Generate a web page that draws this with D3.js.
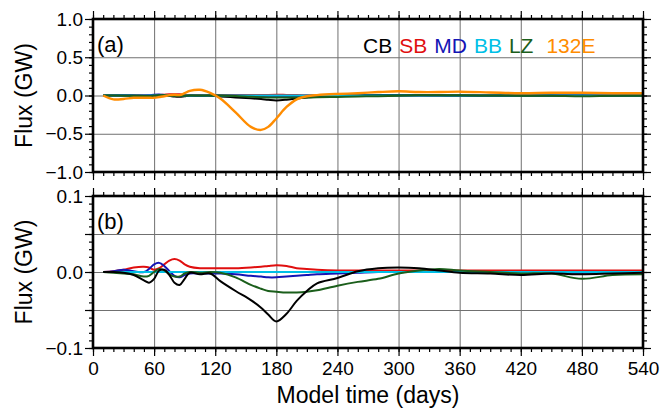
<!DOCTYPE html>
<html>
<head>
<meta charset="utf-8">
<script src="https://cdn.jsdelivr.net/npm/d3@7"></script>
<style>
  body { margin: 0; background: #fff; }
  svg { display: block; font-family: "Liberation Sans", Arial, sans-serif; }
  .grid line { stroke: #707070; stroke-width: 1; }
  .grid path, .ticks path { display: none; }
  .ticks line { stroke: #000; stroke-width: 1.2; }
  .ticks text { font-size: 19px; fill: #000; }
</style>
</head>
<body>
<svg width="660" height="414"></svg>
<script>
var days = [10, 20, 30, 40, 50, 55, 60, 65, 70, 75, 80, 85, 90, 95, 105, 115, 125, 140, 155, 165, 172, 180, 190, 200, 210, 220, 240, 260, 280, 300, 320, 340, 360, 390, 420, 450, 480, 510, 540];

var CB   = [0, 0, -0.001, -0.004, -0.011, -0.014, -0.009, 0.002, 0.003, -0.004, -0.014, -0.017, -0.009, -0.001, -0.003, -0.002, -0.012, -0.025, -0.037, -0.047, -0.056, -0.065, -0.055, -0.038, -0.025, -0.015, -0.008, 0.001, 0.005, 0.006, 0.005, 0.002, -0.001, -0.002, -0.004, -0.002, -0.003, -0.002, -0.001];
var SB   = [0, 0.001, 0.003, 0.006, 0.007, 0.006, 0.003, 0.005, 0.010, 0.015, 0.017, 0.015, 0.010, 0.007, 0.005, 0.005, 0.005, 0.005, 0.006, 0.007, 0.008, 0.009, 0.008, 0.005, 0.004, 0.003, 0.002, 0.002, 0.002, 0.002, 0.002, 0.002, 0.002, 0.002, 0.002, 0.002, 0.002, 0.002, 0.002];
var MD   = [0, 0.001, 0.003, 0.001, 0, 0.004, 0.010, 0.012, 0.008, 0.001, -0.005, -0.007, -0.004, -0.002, -0.002, -0.002, -0.002, -0.003, -0.005, -0.006, -0.007, -0.007, -0.006, -0.005, -0.004, -0.003, -0.002, -0.001, 0, 0, 0, 0, 0, -0.001, -0.001, -0.001, -0.001, 0, 0];
var BB   = [0, 0, 0, 0, 0, 0, 0, 0, 0, 0, 0, 0, 0, 0, 0, 0, 0, 0, 0, 0, 0, 0, 0, 0, 0, 0, 0, 0, 0, 0, 0, 0, 0, 0, 0, 0, 0, 0, 0];
var LZ   = [0, -0.001, -0.002, -0.003, -0.006, -0.005, 0, 0.004, 0.002, -0.003, -0.006, -0.006, -0.002, 0, -0.001, 0, -0.001, -0.007, -0.017, -0.022, -0.025, -0.026, -0.027, -0.027, -0.026, -0.024, -0.018, -0.013, -0.009, -0.002, 0.002, 0.004, 0.002, 0, -0.002, -0.002, -0.009, -0.004, -0.003];
var E132 = [0, -0.05, -0.045, -0.03, -0.03, -0.03, -0.03, -0.02, -0.01, 0.005, 0.01, 0.005, 0.03, 0.06, 0.075, 0.035, -0.04, -0.22, -0.41, -0.45, -0.41, -0.30, -0.15, -0.05, -0.01, 0.005, 0.02, 0.03, 0.045, 0.055, 0.045, 0.045, 0.05, 0.04, 0.03, 0.035, 0.035, 0.03, 0.03];

var names  = ["CB", "SB", "MD", "BB", "LZ", "132E"];
var values = [CB, SB, MD, BB, LZ, E132];
var colors = ["#000000", "#e00f0f", "#1414b4", "#00bfe6", "#1b5e1b", "#ff8c00"];

var xTicks = [0, 60, 120, 180, 240, 300, 360, 420, 480, 540];

var svg = d3.select("svg");
var left = 93, right = 643;

var x = d3.scaleLinear().domain([0, 540]).range([left, right]);

var line = d3.line()
  .x(function(d) { return x(d[0]); })
  .curve(d3.curveCatmullRom.alpha(0.5));

var panels = [
  {label: "(a)", top: 19, bottom: 172, lim: 1.0, major: 0.5, minor: 0.1, labelStep: 0.5, series: [0, 1, 2, 3, 4, 5], xLabels: false},
  {label: "(b)", top: 196, bottom: 348, lim: 0.1, major: 0.05, minor: 0.01, labelStep: 0.1, series: [0, 1, 2, 3, 4], xLabels: true}
];

panels.forEach(function(p, pi) {
  var y = d3.scaleLinear().domain([-p.lim, p.lim]).range([p.bottom, p.top]);
  var h = p.bottom - p.top;
  var w = right - left;
  var g = svg.append("g");

  var step = function(s) {
    var n = Math.round(p.lim / s);
    return d3.range(-n, n + 1).map(function(i) { return +(i * s).toFixed(4); });
  };

  // grid
  g.append("g").attr("class", "grid")
    .attr("transform", "translate(0," + p.bottom + ")")
    .call(d3.axisBottom(x).tickValues(xTicks).tickSize(-h).tickFormat(""));
  g.append("g").attr("class", "grid")
    .attr("transform", "translate(" + left + ",0)")
    .call(d3.axisLeft(y).tickValues(step(p.major)).tickSize(-w).tickFormat(""));

  // curves
  g.append("clipPath").attr("id", "clip" + pi)
    .append("rect").attr("x", left).attr("y", p.top).attr("width", w).attr("height", h);
  var lines = g.append("g").attr("clip-path", "url(#clip" + pi + ")");
  var order = pi === 0 ? [1, 2, 0, 3, 4, 5] : [1, 2, 3, 4, 0];
  order.forEach(function(k) {
    if (p.series.indexOf(k) < 0) return;
    var pts = days.map(function(d, i) { return [d, values[k][i]]; });
    lines.append("path")
      .attr("d", line.y(function(d) { return y(d[1]); })(pts))
      .attr("fill", "none")
      .attr("stroke", colors[k])
      .attr("stroke-width", k === 5 ? 2.4 : 2)
      .attr("stroke-linejoin", "round");
  });

  // ticks: minor then major, on all four sides
  var minorX = d3.range(0, 541, 10);
  var yMinor = step(p.minor);
  var yMajor = step(p.major);
  var yLab = step(p.labelStep);

  g.append("g").attr("class", "ticks").attr("transform", "translate(0," + p.bottom + ")")
    .call(d3.axisBottom(x).tickValues(minorX).tickSize(4).tickFormat(""));
  g.append("g").attr("class", "ticks").attr("transform", "translate(0," + p.top + ")")
    .call(d3.axisTop(x).tickValues(minorX).tickSize(4).tickFormat(""));
  g.append("g").attr("class", "ticks").attr("transform", "translate(0," + p.top + ")")
    .call(d3.axisTop(x).tickValues(xTicks).tickSize(8).tickFormat(""));
  g.append("g").attr("class", "ticks").attr("transform", "translate(0," + p.bottom + ")")
    .call(d3.axisBottom(x).tickValues(xTicks).tickSize(8).tickPadding(6)
      .tickFormat(p.xLabels ? d3.format("d") : ""));

  g.append("g").attr("class", "ticks").attr("transform", "translate(" + left + ",0)")
    .call(d3.axisLeft(y).tickValues(yMinor).tickSize(4).tickFormat(""));
  g.append("g").attr("class", "ticks").attr("transform", "translate(" + right + ",0)")
    .call(d3.axisRight(y).tickValues(yMinor).tickSize(4).tickFormat(""));
  g.append("g").attr("class", "ticks").attr("transform", "translate(" + right + ",0)")
    .call(d3.axisRight(y).tickValues(yMajor).tickSize(8).tickFormat(""));
  g.append("g").attr("class", "ticks").attr("transform", "translate(" + left + ",0)")
    .call(d3.axisLeft(y).tickValues(yMajor).tickSize(8)
      .tickFormat(function(v) { return yLab.indexOf(v) >= 0 ? d3.format(".1f")(v) : ""; })
      .tickPadding(2));

  // frame
  g.append("rect")
    .attr("x", left).attr("y", p.top).attr("width", w).attr("height", h)
    .attr("fill", "none").attr("stroke", "#000").attr("stroke-width", 2.6);

  g.append("text")
    .attr("x", left + 4).attr("y", p.top + 33)
    .attr("font-size", 22)
    .text(p.label);

  g.append("text")
    .attr("transform", "translate(32," + (p.top + h / 2) + ") rotate(-90)")
    .attr("text-anchor", "middle")
    .attr("font-size", 23)
    .text("Flux (GW)");
});

// legend in panel (a)
var lx = 363;
var legend = svg.append("g").attr("font-size", 21);
names.forEach(function(n, i) {
  var t = legend.append("text")
    .attr("x", lx).attr("y", 53)
    .attr("fill", colors[i])
    .text(n);
  lx += t.node().getComputedTextLength() + (i === 4 ? 13 : 7);
});

svg.append("text")
  .attr("x", x(270)).attr("y", 403)
  .attr("text-anchor", "middle")
  .attr("font-size", 23)
  .text("Model time (days)");
</script>
</body>
</html>
